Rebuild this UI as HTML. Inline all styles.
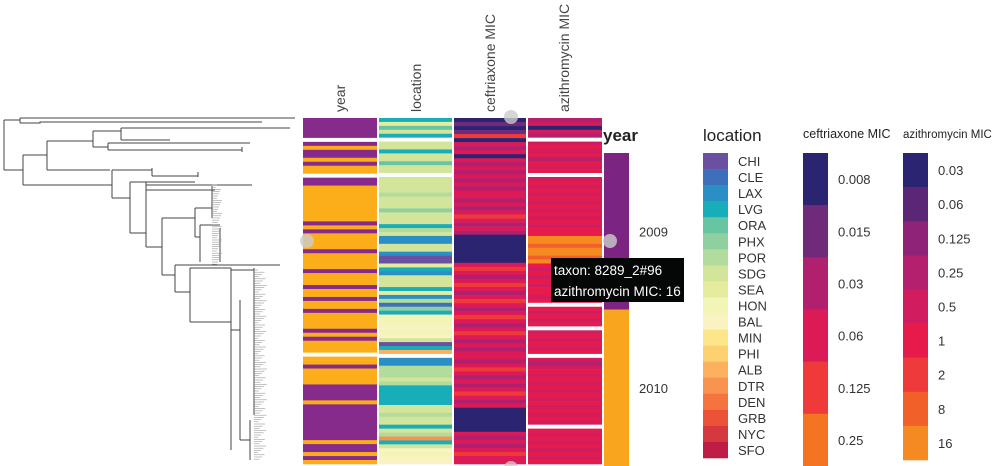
<!DOCTYPE html>
<html><head><meta charset="utf-8">
<style>
body{margin:0;background:#fff;width:1003px;height:466px;overflow:hidden;font-family:"Liberation Sans",sans-serif}
svg{display:block}
</style></head>
<body>
<svg id="chart" width="1003" height="466" viewBox="0 0 1003 466" xmlns="http://www.w3.org/2000/svg">
<g id="tree" stroke="#444" stroke-width="1" fill="none"></g>
<g id="heat"></g>
<g id="headers" font-size="14" fill="#444"></g>
<g id="legends"></g>
<g fill="#ccc" opacity="0.8">
<circle cx="511" cy="117" r="7"/><circle cx="307" cy="241" r="7"/><circle cx="610" cy="241" r="7"/><circle cx="511" cy="468" r="7"/>
</g>
<g>
<rect x="551" y="258" width="133" height="44" fill="#050707"/>
<text x="554" y="275" fill="#fff" font-size="13.5">taxon: 8289_2#96</text>
<text x="554" y="296" fill="#fff" font-size="13.5">azithromycin MIC: 16</text>
</g>
</svg>
<script>
const NS="http://www.w3.org/2000/svg";
// ---- data ----
const columns=["year","location","ceftriaxone MIC","azithromycin MIC"];
const yearCats=["2009","2010"];
const locationCats=["CHI","CLE","LAX","LVG","ORA","PHX","POR","SDG","SEA","HON","BAL","MIN","PHI","ALB","DTR","DEN","GRB","NYC","SFO"];
const cefCats=["0.008","0.015","0.03","0.06","0.125","0.25"];
const aziCats=["0.03","0.06","0.125","0.25","0.5","1","2","8","16"];
const yearRows="00000w01001011w00111111111010111101111011101101101111010111w110111100001000000000100101";
const locRows="38473w77377477w77776777577736722772008327773826153999a9a703dw22666763333377677376e37a9aa";
const cefRows="0101403230323232323323234323200000003432343234323432343232332343232343230000003232343 3".replace(/ /g,"");
const aziRows="34043w45453545w45454545454545588788785454545545w54545w454545w43454545454545454w545454545";
const yearColors=["#862a8c","#fbae1a"];
const locColors=["#6b4fa0","#3e6fba","#2a8fc4","#17adb9","#67c5a4","#8fd0a1","#b2dc9d","#d2e59a","#e6ec9e","#f3f5b6","#f8f3c0","#fde58a","#fdd16f","#fbb15e","#f99350","#f4733f","#ec5238","#d6383f","#be1e45"];
const cefColors=["#2b2470","#6f2a7a","#b0206f","#dc1a57","#ee3a3b","#f57422"];
const aziColors=["#2b2470","#5c2676","#8e2377","#b4206e","#d21c60","#e71b4b","#ee3a3b","#f06028","#f58a22"];
// ---- heatmap ----
const heat=document.getElementById('heat');
const colX=[303,379,454,528], colW=[74,73,72,74];
const top0=118, bottom0=464;
const colData=[[yearRows,yearColors],[locRows,locColors],[cefRows,cefColors],[aziRows,aziColors]];
colData.forEach((cd,ci)=>{
  const s=cd[0], n=s.length, h=(bottom0-top0)/n;
  for(let i=0;i<n;i++){
    const ch=s[i];
    const r=document.createElementNS(NS,'rect');
    
    
    r.setAttribute('x',colX[ci]);r.setAttribute('y',(top0+i*h).toFixed(2));
    r.setAttribute('width',colW[ci]);r.setAttribute('height',(h+0.3).toFixed(2));
    r.setAttribute('fill',ch==='w'?'#fff':cd[1][parseInt(ch,36)]);
    heat.appendChild(r);
  }
});
// ---- headers ----
const hd=document.getElementById('headers');
const hx=[345,421,495,569];
columns.forEach((c,i)=>{
  const t=document.createElementNS(NS,'text');
  
  
  t.setAttribute('transform',`translate(${hx[i]},112) rotate(-90)`);
  t.textContent=c;hd.appendChild(t);
});
// ---- legends ----
const lg=document.getElementById('legends');
function txt(x,y,s,size,weight,fill){const t=document.createElementNS(NS,'text');t.setAttribute('x',x);t.setAttribute('y',y);t.setAttribute('font-size',size);if(weight)t.setAttribute('font-weight',weight);t.setAttribute('fill',fill||'#333');t.textContent=s;


lg.appendChild(t);return t;}
function legend(x,y0,y1,cats,colors,labelCenter){
  const h=(y1-y0)/cats.length;
  cats.forEach((c,i)=>{
    const r=document.createElementNS(NS,'rect');
    
    
    r.setAttribute('x',x);r.setAttribute('y',y0+i*h);r.setAttribute('width',25);r.setAttribute('height',h+0.3);r.setAttribute('fill',colors[i]);lg.appendChild(r);
    txt(x+35,y0+i*h+h/2+5,c,13,null,'#333');
  });
}
txt(603,141,"year",17,"bold","#222");
txt(703,141,"location",17,null,"#222");
txt(803,138,"ceftriaxone MIC",12.5,null,"#222");
txt(903,138,"azithromycin MIC",11.5,null,"#222");
legend(604,153,466,yearCats,["#7c2482","#f9a51d"]);
legend(703,153,458,locationCats,locColors);
legend(803,153,466,cefCats,cefColors);
legend(903,153,460,aziCats,aziColors);
// ---- tree (decorative) ----
const tree=document.getElementById('tree');
const segs=[
"M4 120V170","M4 120H20","M20 118V123","M20 118H295","M20 123H40V122H262",
"M4 170H23","M23 155V185","M23 155H47","M47 141V170","M47 141H93","M93 131V147","M93 131H121","M121 128V140","M121 128H290","M121 140H170",
"M93 147H108","M108 143V150","M108 143H250","M108 150H242","M242 147V152","M47 170H110",
"M23 185H112","M112 170V198","M112 170H152","M152 168V176","M152 176H198","M198 172V177","M112 198H130","M130 182V233","M130 182H146","M146 182V190","M146 182H195","M146 190H215",
"M130 233H146","M146 185V247","M146 185H252","M146 247H162","M162 218V275","M162 218H195","M195 208V237","M195 208H212","M212 186V218","M195 237H200","M200 225V262","M200 225H220","M220 228V262",
"M162 275H175","M175 265V292","M175 265H280","M175 292H190","M190 268V322","M190 268H231","M231 268V450","M190 322H231","M231 330H240","M240 300V440","M240 440H250","M250 420V460","M231 270H254","M254 268V415"
];
segs.forEach(d=>{const p=document.createElementNS(NS,'path');p.setAttribute('d',d);tree.appendChild(p);});
for(let y=270;y<460;y+=2.2){const p=document.createElementNS(NS,'path');p.setAttribute('d',`M254 ${y.toFixed(1)}H${258+((y*7)%9)}`);p.setAttribute('stroke','#999');p.setAttribute('stroke-width','0.6');tree.appendChild(p);}
for(let y=185;y<265;y+=2.2){const p=document.createElementNS(NS,'path');p.setAttribute('d',`M212 ${y.toFixed(1)}H${216+((y*5)%6)}`);p.setAttribute('stroke','#999');p.setAttribute('stroke-width','0.6');tree.appendChild(p);}
</script>
</body></html>
